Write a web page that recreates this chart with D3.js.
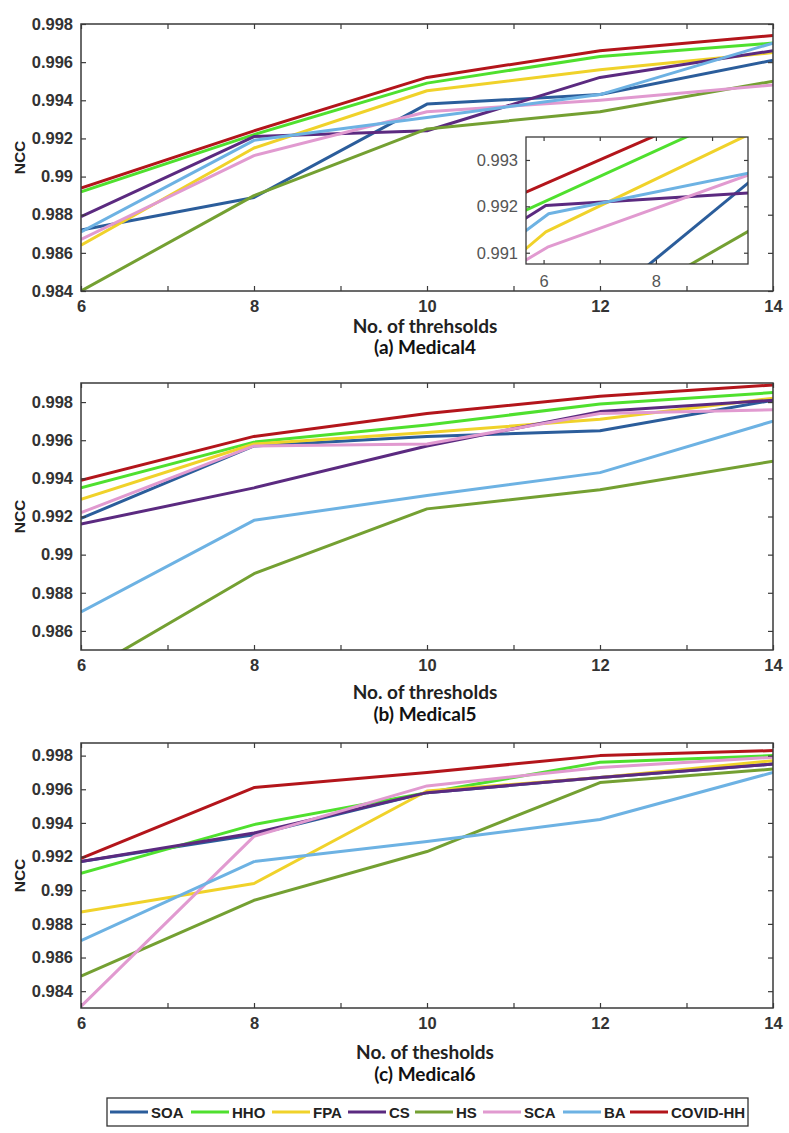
<!DOCTYPE html>
<html><head><meta charset="utf-8">
<script src="https://cdn.jsdelivr.net/npm/d3@7"></script>
<style>body{margin:0;background:#fff} svg{display:block}</style>
</head><body><svg id="c" width="789" height="1133"></svg>
<script>
// ---------- data ----------
const thresholds = [6, 8, 10, 12, 14];
const methods = ["SOA", "HHO", "FPA", "CS", "HS", "SCA", "BA", "COVID-HH"];
const colors = ["#2b5d9b", "#4fe02e", "#f0d22a", "#5b2a80", "#74a032", "#e19ad0", "#6db2e3", "#b3151b"];

// (a) Medical4
const soa4   = [0.9872, 0.9889, 0.9938, 0.9943, 0.9961];
const hho4   = [0.9892, 0.9922, 0.9949, 0.9963, 0.9970];
const fpa4   = [0.9864, 0.9915, 0.9945, 0.9956, 0.9965];
const cs4    = [0.9879, 0.9921, 0.9924, 0.9952, 0.9966];
const hs4    = [0.9840, 0.9890, 0.9925, 0.9934, 0.9950];
const sca4   = [0.9867, 0.9911, 0.9934, 0.9940, 0.9948];
const ba4    = [0.9871, 0.9919, 0.9931, 0.9943, 0.9970];
const covid4 = [0.9894, 0.9924, 0.9952, 0.9966, 0.9974];

// (b) Medical5
const soa5   = [0.9919, 0.9957, 0.9962, 0.9965, 0.9981];
const hho5   = [0.9935, 0.9959, 0.9968, 0.9979, 0.9985];
const fpa5   = [0.9929, 0.9958, 0.9964, 0.9971, 0.9982];
const cs5    = [0.9916, 0.9935, 0.9957, 0.9975, 0.9981];
const hs5    = [0.9837, 0.9890, 0.9924, 0.9934, 0.9949];
const sca5   = [0.9922, 0.9957, 0.9958, 0.9974, 0.9976];
const ba5    = [0.9870, 0.9918, 0.9931, 0.9943, 0.9970];
const covid5 = [0.9939, 0.9962, 0.9974, 0.9983, 0.9989];

// (c) Medical6
const soa6   = [0.9917, 0.9933, 0.9958, 0.9967, 0.9975];
const hho6   = [0.9910, 0.9939, 0.9958, 0.9976, 0.9980];
const fpa6   = [0.9887, 0.9904, 0.9959, 0.9967, 0.9977];
const cs6    = [0.9917, 0.9934, 0.9958, 0.9967, 0.9975];
const hs6    = [0.9849, 0.9894, 0.9923, 0.9964, 0.9972];
const sca6   = [0.9831, 0.9932, 0.9962, 0.9973, 0.9979];
const ba6    = [0.9870, 0.9917, 0.9929, 0.9942, 0.9970];
const covid6 = [0.9919, 0.9961, 0.9970, 0.9980, 0.9983];

// zoomed inset of (a): [x, NCC] points in the inset's own axis units
const insetSOA   = [[7.85, 0.99072], [9.70, 0.99256]];
const insetHHO   = [[5.60, 0.99187], [8.60, 0.99353]];
const insetFPA   = [[5.60, 0.99100], [6.04, 0.99145], [9.60, 0.99352]];
const insetCS    = [[5.60, 0.99168], [6.04, 0.99202], [9.70, 0.99229]];
const insetHS    = [[8.55, 0.99070], [9.70, 0.99150]];
const insetSCA   = [[5.60, 0.99078], [6.07, 0.99112], [9.70, 0.99270]];
const insetBA    = [[5.60, 0.99140], [6.09, 0.99184], [9.70, 0.99273]];
const insetCOVID = [[5.60, 0.99226], [8.00, 0.99353]];

const yTicks4 = [0.984, 0.986, 0.988, 0.99, 0.992, 0.994, 0.996, 0.998];
const yTicks5 = [0.986, 0.988, 0.99, 0.992, 0.994, 0.996, 0.998];
const yTicks6 = [0.984, 0.986, 0.988, 0.99, 0.992, 0.994, 0.996, 0.998];
const insetYTicks = [0.991, 0.992, 0.993];
const insetXTicks = [6, 7, 8, 9];

// ---------- drawing ----------
const svg = d3.select("#c");
const L = 81, R = 773;
const AX = "#3a3a3a";
const tickFont = "'Liberation Sans', Arial, sans-serif";
const titleFont = "Lato, 'Open Sans', sans-serif";

const panels = [
  {id: "a", series: [soa4, hho4, fpa4, cs4, hs4, sca4, ba4, covid4], top: 24, bottom: 291,
   domain: [0.984, 0.998], yTicks: yTicks4, xTitle: "No. of threhsolds", title: "(a) Medical4",
   xTitleY: 325, titleY: 346},
  {id: "b", series: [soa5, hho5, fpa5, cs5, hs5, sca5, ba5, covid5], top: 383, bottom: 650,
   domain: [0.985, 0.999], yTicks: yTicks5, xTitle: "No. of thresholds", title: "(b) Medical5",
   xTitleY: 691, titleY: 713},
  {id: "c", series: [soa6, hho6, fpa6, cs6, hs6, sca6, ba6, covid6], top: 743, bottom: 1008,
   domain: [0.983, 0.99875], yTicks: yTicks6, xTitle: "No. of thesholds", title: "(c) Medical6",
   xTitleY: 1051, titleY: 1073}
];

function styleAxis(g, fs, bold, col) {
  g.select(".domain").remove();
  g.selectAll(".tick line").attr("stroke", AX).attr("stroke-width", 1.2);
  g.selectAll(".tick text").attr("font-family", tickFont).attr("font-size", fs)
    .attr("font-weight", bold ? "bold" : "normal").attr("fill", col);
}

panels.forEach(p => {
  const x = d3.scaleLinear().domain([6, 14]).range([L, R]);
  const y = d3.scaleLinear().domain(p.domain).range([p.bottom, p.top]);
  const g = svg.append("g");

  const clipId = "clip" + p.id;
  svg.append("clipPath").attr("id", clipId).append("rect")
    .attr("x", L).attr("y", p.top).attr("width", R - L).attr("height", p.bottom - p.top);

  const line = d3.line().x((d, i) => x(thresholds[i])).y(d => y(d));
  const lg = g.append("g").attr("clip-path", `url(#${clipId})`);
  p.series.forEach((s, k) => {
    lg.append("path").datum(s).attr("d", line).attr("fill", "none")
      .attr("stroke", colors[k]).attr("stroke-width", 3).attr("stroke-linejoin", "round");
  });

  const fmtY = v => String(+v.toFixed(3));
  const xt = d3.range(6, 15, 1);
  g.append("g").attr("transform", `translate(0,${p.bottom})`)
    .call(d3.axisBottom(x).tickValues(xt).tickSize(-5).tickPadding(9)
      .tickFormat(d => d % 2 === 0 ? d : ""))
    .call(a => styleAxis(a, 16.5, true, "#333"));
  g.append("g").attr("transform", `translate(0,${p.top})`)
    .call(d3.axisTop(x).tickValues(xt).tickSize(-5).tickFormat(""))
    .call(a => styleAxis(a, 16, true, "#333"));
  g.append("g").attr("transform", `translate(${L},0)`)
    .call(d3.axisLeft(y).tickValues(p.yTicks).tickSize(-5).tickPadding(8).tickFormat(fmtY))
    .call(a => styleAxis(a, 16.5, true, "#333"));
  g.append("g").attr("transform", `translate(${R},0)`)
    .call(d3.axisRight(y).tickValues(p.yTicks).tickSize(-5).tickFormat(""))
    .call(a => styleAxis(a, 16, true, "#333"));

  g.append("rect").attr("x", L).attr("y", p.top).attr("width", R - L).attr("height", p.bottom - p.top)
    .attr("fill", "none").attr("stroke", AX).attr("stroke-width", 1.5);

  g.append("text").attr("transform", `translate(19,${(p.top + p.bottom) / 2}) rotate(-90)`)
    .attr("text-anchor", "middle").attr("dominant-baseline", "central")
    .attr("font-family", tickFont).attr("font-weight", "bold").attr("font-size", 15.5)
    .attr("fill", "#222").text("NCC");

  g.append("text").attr("x", (L + R) / 2 - 2).attr("y", p.xTitleY).attr("text-anchor", "middle")
    .attr("dominant-baseline", "central").attr("font-family", titleFont).attr("font-weight", "bold")
    .attr("font-size", 19).attr("fill", "#222").text(p.xTitle);
  g.append("text").attr("x", (L + R) / 2 - 2).attr("y", p.titleY).attr("text-anchor", "middle")
    .attr("dominant-baseline", "central").attr("font-family", titleFont).attr("font-weight", "bold")
    .attr("font-size", 19).attr("fill", "#111").text(p.title);

  if (p.id === "a") {
    const iL = 526, iR = 748, iT = 137, iB = 264;
    const ix = d3.scaleLinear().domain([5.687, 9.64]).range([iL, iR]);
    const iy = d3.scaleLinear().domain([0.990757, 0.993495]).range([iB, iT]);
    const ig = svg.append("g");
    ig.append("rect").attr("x", iL).attr("y", iT).attr("width", iR - iL).attr("height", iB - iT)
      .attr("fill", "#fff");
    svg.append("clipPath").attr("id", "clipInset").append("rect")
      .attr("x", iL).attr("y", iT).attr("width", iR - iL).attr("height", iB - iT);
    const il = d3.line().x(d => ix(d[0])).y(d => iy(d[1]));
    const ilg = ig.append("g").attr("clip-path", "url(#clipInset)");
    [insetSOA, insetHHO, insetFPA, insetCS, insetHS, insetSCA, insetBA, insetCOVID].forEach((s, k) => {
      ilg.append("path").datum(s).attr("d", il).attr("fill", "none")
        .attr("stroke", colors[k]).attr("stroke-width", 3).attr("stroke-linejoin", "round");
    });
    const fmtI = v => String(+v.toFixed(3));
    ig.append("g").attr("transform", `translate(0,${iB})`)
      .call(d3.axisBottom(ix).tickValues(insetXTicks).tickSize(-4).tickPadding(11)
        .tickFormat(d => d % 2 === 0 ? d : ""))
      .call(a => styleAxis(a, 16.5, false, "#555"));
    ig.append("g").attr("transform", `translate(0,${iT})`)
      .call(d3.axisTop(ix).tickValues(insetXTicks).tickSize(-4).tickFormat(""))
      .call(a => styleAxis(a, 16, false, "#555"));
    ig.append("g").attr("transform", `translate(${iL},0)`)
      .call(d3.axisLeft(iy).tickValues(insetYTicks).tickSize(-4).tickPadding(8).tickFormat(fmtI))
      .call(a => styleAxis(a, 16.5, false, "#555"));
    ig.append("g").attr("transform", `translate(${iR},0)`)
      .call(d3.axisRight(iy).tickValues(insetYTicks).tickSize(-4).tickFormat(""))
      .call(a => styleAxis(a, 16, false, "#555"));
    ig.append("rect").attr("x", iL).attr("y", iT).attr("width", iR - iL).attr("height", iB - iT)
      .attr("fill", "none").attr("stroke", AX).attr("stroke-width", 1.3);
  }
});

// ---------- legend ----------
const legX0 = 107, legX1 = 748, legY0 = 1098, legY1 = 1126;
const leg = svg.append("g");
leg.append("rect").attr("x", legX0).attr("y", legY0).attr("width", legX1 - legX0).attr("height", legY1 - legY0)
  .attr("fill", "#fff").attr("stroke", "#333").attr("stroke-width", 1.3);
const legStarts = [110, 191, 272, 348, 415, 483, 563, 630];
const cy = (legY0 + legY1) / 2;
methods.forEach((m, k) => {
  const sx = legStarts[k];
  leg.append("line").attr("x1", sx).attr("x2", sx + 38).attr("y1", cy).attr("y2", cy)
    .attr("stroke", colors[k]).attr("stroke-width", 3);
  leg.append("text").attr("x", sx + 41).attr("y", cy).attr("dominant-baseline", "central")
    .attr("font-family", tickFont).attr("font-weight", "bold").attr("font-size", 15)
    .attr("fill", "#222").text(m);
});
</script></body></html>
